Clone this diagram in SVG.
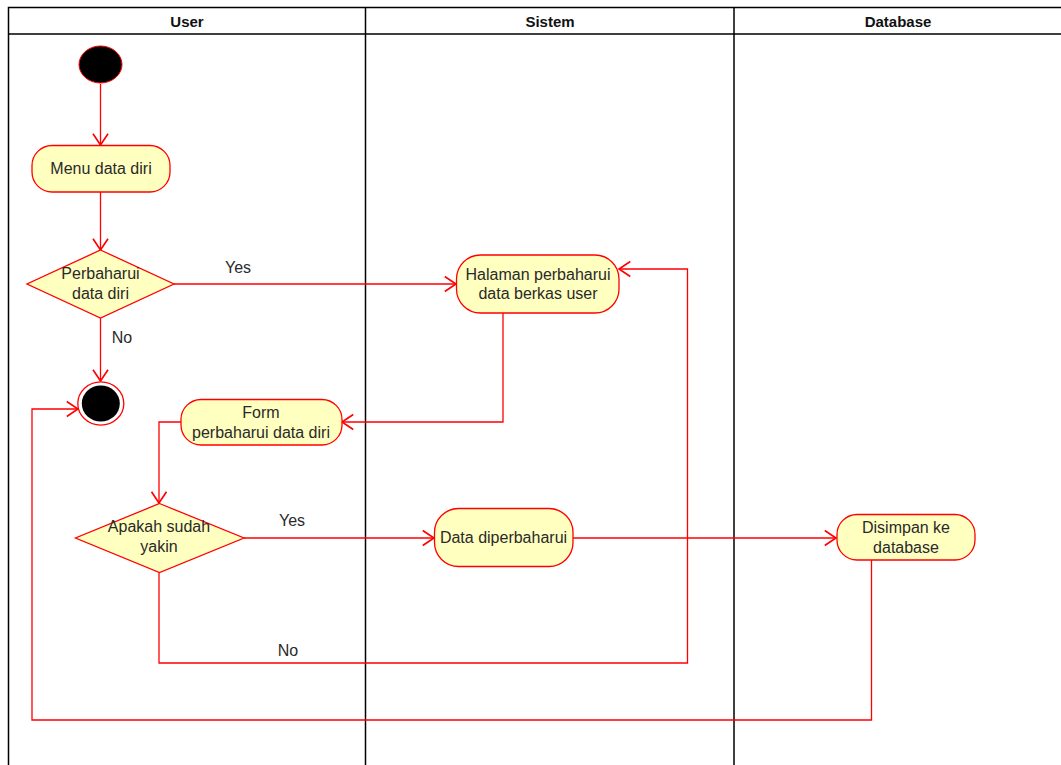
<svg xmlns="http://www.w3.org/2000/svg" width="1061" height="765" viewBox="0 0 1061 765">
<style>
.lane{fill:none;stroke:#000;stroke-width:1.5}
.hdr{font-family:"Liberation Sans",Arial,sans-serif;font-size:15px;font-weight:bold;fill:#111;text-anchor:middle}
.act{fill:#ffffc0;stroke:#ff0000;stroke-width:1.3}
.t{font-family:"Liberation Sans",Arial,sans-serif;font-size:16px;fill:#2a2a2a;text-anchor:middle}
.c{fill:none;stroke:#ff0000;stroke-width:1.3}
.lbl{font-family:"Liberation Sans",Arial,sans-serif;font-size:16px;fill:#2a2a2a;text-anchor:middle}
</style>
<defs>
<marker id="arr" markerUnits="userSpaceOnUse" markerWidth="20" markerHeight="20" viewBox="-10 -8 12 16" refX="0" refY="0" orient="auto">
<path d="M-9,-6 L0,0 L-9,6" fill="none" stroke="#ff0000" stroke-width="1.3"/>
</marker>
</defs>
<rect width="1061" height="765" fill="#fff"/>
<g id="swimlanes">
<path class="lane" d="M8.5 775 L8.5 7.5 L1061 7.5 M8.5 34 L1061 34 M365.5 7.5 L365.5 775 M734 7.5 L734 775"/>
<text class="hdr" x="187" y="27">User</text>
<text class="hdr" x="550" y="27">Sistem</text>
<text class="hdr" x="898" y="27">Database</text>
</g>
<g id="connectors">
<path class="c" marker-end="url(#arr)" d="M100.5 84 L100.5 145"/>
<path class="c" marker-end="url(#arr)" d="M100.5 192 L100.5 250"/>
<path class="c" marker-end="url(#arr)" d="M174 284 L456 284"/>
<path class="c" marker-end="url(#arr)" d="M100.5 318 L100.5 381"/>
<path class="c" marker-end="url(#arr)" d="M503 313 L503 422 L342 422"/>
<path class="c" marker-end="url(#arr)" d="M181 422 L159 422 L159 503"/>
<path class="c" marker-end="url(#arr)" d="M244 538 L434 538"/>
<path class="c" marker-end="url(#arr)" d="M159 573 L159 663 L687.5 663 L687.5 269 L619 269"/>
<path class="c" marker-end="url(#arr)" d="M573 538 L836 538"/>
<path class="c" marker-end="url(#arr)" d="M871.5 560 L871.5 720 L32 720 L32 409 L78 409"/>
<text class="lbl" x="238" y="273">Yes</text>
<text class="lbl" x="122" y="343">No</text>
<text class="lbl" x="292" y="526">Yes</text>
<text class="lbl" x="288" y="656">No</text>
</g>
<g id="start">
<ellipse cx="100.5" cy="64.5" rx="21.5" ry="18.5" fill="#000" stroke="#ff0000" stroke-width="1"/>
</g>
<g id="menu">
<rect class="act" x="32" y="145.5" width="138" height="46.5" rx="20" ry="20"/>
<text class="t" x="101" y="174">Menu data diri</text>
</g>
<g id="decision1">
<polygon class="act" points="100.5,250 174,284 100.5,318 27,284"/>
<text class="t" x="100.5" y="279">Perbaharui</text>
<text class="t" x="100.5" y="299">data diri</text>
</g>
<g id="end">
<ellipse cx="100.8" cy="403.5" rx="23" ry="21.7" fill="#fff" stroke="#ff0000" stroke-width="1.3"/>
<ellipse cx="100.8" cy="403.5" rx="19" ry="18" fill="#000"/>
</g>
<g id="halaman">
<rect class="act" x="456.5" y="255" width="162.5" height="58" rx="24" ry="24"/>
<text class="t" x="538" y="280">Halaman perbaharui</text>
<text class="t" x="538" y="299">data berkas user</text>
</g>
<g id="form">
<rect class="act" x="181" y="399.5" width="161" height="45.5" rx="20" ry="20"/>
<text class="t" x="261" y="418">Form</text>
<text class="t" x="261" y="438">perbaharui data diri</text>
</g>
<g id="decision2">
<polygon class="act" points="159.5,503.5 244,538 159.5,572.5 75.5,538"/>
<text class="t" x="159" y="532">Apakah sudah</text>
<text class="t" x="159" y="552">yakin</text>
</g>
<g id="data">
<rect class="act" x="434.5" y="508.5" width="138.5" height="58" rx="24" ry="24"/>
<text class="t" x="503.5" y="543">Data diperbaharui</text>
</g>
<g id="disimpan">
<rect class="act" x="837" y="514.5" width="138" height="45.5" rx="20" ry="20"/>
<text class="t" x="906" y="533">Disimpan ke</text>
<text class="t" x="906" y="553">database</text>
</g>
</svg>
